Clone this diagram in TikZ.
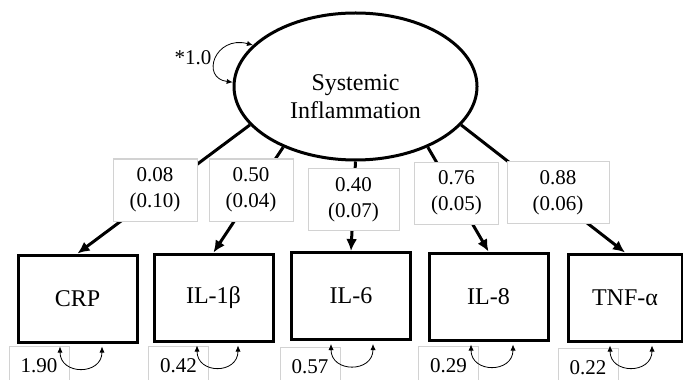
\documentclass[tikz,border=0pt]{standalone}
\usepackage{fontspec}
\setmainfont{Liberation Serif}
\usetikzlibrary{arrows.meta,shapes.geometric}
\begin{document}
\begin{tikzpicture}
        [x=0.5pt, y=-0.5pt,
        latent/.style={ellipse,draw,line width=1.5pt,minimum width=121.5pt,minimum height=73.5pt},
        obs/.style={rectangle,draw,line width=1.5pt,minimum width=59.5pt,minimum height=43.5pt,font=\fontsize{12}{14}\selectfont},
        load/.style={rectangle,draw=gray!35,line width=0.5pt,fill=white,minimum width=42pt,minimum height=31pt,inner sep=3pt,align=center,font=\fontsize{10.5}{13}\selectfont},
        resid/.style={rectangle,draw=gray!35,line width=0.5pt,minimum width=30pt,minimum height=19pt,anchor=north,font=\fontsize{10.5}{13}\selectfont},
        loadarrow/.style={line width=1.5pt,-{Latex[length=6pt,width=5.5pt]}},
        residarc/.style={line width=0.4pt,{Latex[length=3pt,width=2.6pt]}-{Latex[length=3pt,width=2.6pt]}}]
        \useasboundingbox (0,0) rectangle (683,379);

        % latent factor
        \node[latent] (lat) at (355.5,86.5) {};
        \node[align=center,font=\fontsize{12}{14}\selectfont] (latname) at (355.5,97) {Systemic\\Inflammation};
        \node[font=\fontsize{10.5}{13}\selectfont] (latvar) at (193,58) {*1.0};
        \draw[residarc] (lat.158) .. controls (215,35) and (200,78) .. (lat.178);

        % indicators
        \node[obs] (crp) at (77.5,298.5) {CRP};
        \node[obs] (il1) at (213.5,297.5) {IL-1β};
        \node[obs] (il6) at (351,296) {IL-6};
        \node[obs] (il8) at (488.5,296.5) {IL-8};
        \node[obs, minimum width=57pt] (tnf) at (625,297.5) {TNF-α};

        \draw[loadarrow] (lat.200) -- (crp.north);
        \draw[loadarrow] (lat.220) -- (il1.north);
        \draw[loadarrow] (lat.270) -- (il6.north);
        \draw[loadarrow] (lat.320) -- (il8.north);
        \draw[loadarrow] (lat.340) -- (tnf.north);

        % loadings (se)
        \node[load] (l1) at (155,190) {0.08\\(0.10)};
        \node[load] (l2) at (251,190) {0.50\\(0.04)};
        \node[load, minimum width=45.5pt] (l3) at (353.5,199.5) {0.40\\(0.07)};
        \node[load] (l4) at (456.5,193) {0.76\\(0.05)};
        \node[load, minimum width=51pt] (l5) at (558,192.5) {0.88\\(0.06)};

        % residual variances
        \node[resid] (r1) at (39,346) {1.90};
        \node[resid] (r2) at (178.5,346) {0.42};
        \node[resid] (r3) at (310,347) {0.57};
        \node[resid] (r4) at (448.5,346) {0.29};
        \node[resid] (r5) at (588,348) {0.22};

        \draw[residarc] ([xshift=-8.75pt,yshift=-1.5pt]crp.south) .. controls +(0,-14.5pt) and +(0,-14.5pt) .. ([xshift=12.25pt,yshift=-1.5pt]crp.south);
        \draw[residarc] ([xshift=-8.25pt,yshift=-1.5pt]il1.south) .. controls +(0,-14.5pt) and +(0,-14.5pt) .. ([xshift=12.25pt,yshift=-1.5pt]il1.south);
        \draw[residarc] ([xshift=-10pt,yshift=-1.5pt]il6.south) .. controls +(0,-14.5pt) and +(0,-14.5pt) .. ([xshift=11pt,yshift=-1.5pt]il6.south);
        \draw[residarc] ([xshift=-8.75pt,yshift=-1.5pt]il8.south) .. controls +(0,-14.5pt) and +(0,-14.5pt) .. ([xshift=12.25pt,yshift=-1.5pt]il8.south);
        \draw[residarc] ([xshift=-7.5pt,yshift=-1.5pt]tnf.south) .. controls +(0,-14.5pt) and +(0,-14.5pt) .. ([xshift=13.5pt,yshift=-1.5pt]tnf.south);
    \end{tikzpicture}
\end{document}
